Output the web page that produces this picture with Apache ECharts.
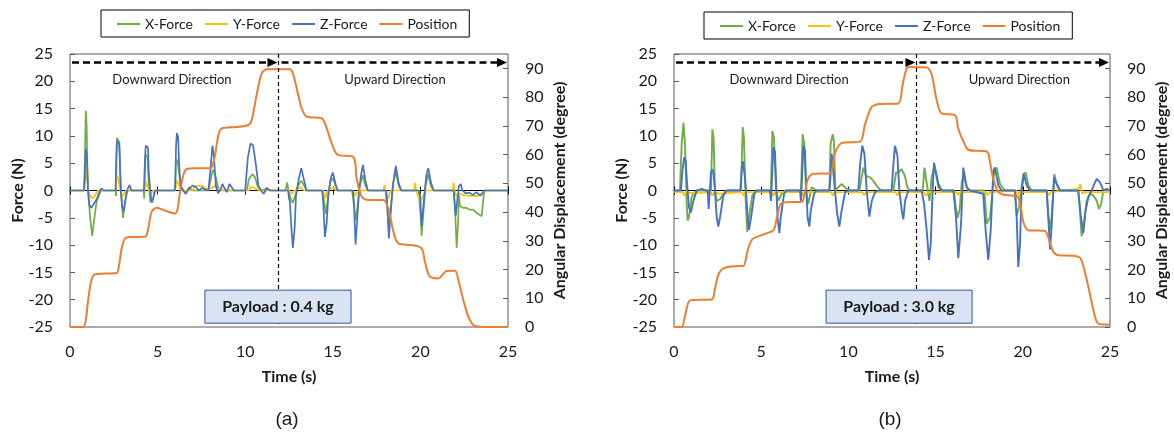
<!DOCTYPE html>
<html>
<head>
<meta charset="utf-8">
<script src="https://cdn.jsdelivr.net/npm/echarts@6/dist/echarts.min.js"></script>
<style>
html,body{margin:0;padding:0;background:#fff;}
#wrap{position:relative;width:1174px;height:435px;}
.pane{position:absolute;top:0;width:587px;height:435px;}
#chartA{left:0;}
#chartB{left:587px;}
</style>
</head>
<body>
<div id="wrap"><div id="chartA" class="pane"></div><div id="chartB" class="pane"></div></div>
<script>
var seriesNames = ['X-Force', 'Y-Force', 'Z-Force', 'Position'];
var seriesColors = ['#70ad47', '#ffc000', '#4472c4', '#ed7d31'];

// (a) payload 0.4 kg : [time (s), force (N)] / [time (s), angle (deg)]
var aXForce = [[0,0],[0.8,0],[0.85,6],[0.9,14.6],[0.95,12],[1.0,3],[1.05,-1],[1.15,-5],[1.27,-8.3],[1.39,-5],[1.52,-2],[1.71,-0.4],[1.8,0],
  [2.6,0],[2.63,-1],[2.67,9.6],[2.78,9.4],[2.82,8.9],[2.88,2],[2.95,-2],[3.02,-5],[3.1,-3.5],[3.2,-1],[3.3,0],
  [4.2,0],[4.24,-1.5],[4.3,6.6],[4.42,6.2],[4.5,1],[4.58,-2],[4.7,-2.2],[4.8,-0.5],[4.9,0],
  [6.0,0],[6.05,5.8],[6.15,5.2],[6.25,2.5],[6.35,0.5],[6.5,0],[6.6,-0.5],[6.8,0.5],[7.0,0],
  [7.9,0],[8.0,1.5],[8.15,3.8],[8.3,2.8],[8.45,0.5],[8.6,0],
  [10.1,0],[10.2,2],[10.4,3],[10.55,2.5],[10.7,0.8],[10.9,0],[11.2,0.3],[11.5,0],
  [12.3,0],[12.4,1.5],[12.47,0],[12.6,-1.5],[12.72,-2.3],[12.85,-1],[13.0,0.8],[13.2,1.8],[13.35,1],[13.5,0],
  [14.4,0],[14.5,-2],[14.6,-4.3],[14.7,-2],[14.85,1.5],[15.0,2.3],[15.15,1],[15.3,0],
  [16.1,0],[16.2,-2.5],[16.3,-5.5],[16.4,-3],[16.55,1],[16.7,2.8],[16.85,1],[17.0,0],
  [18.0,0],[18.1,-3],[18.2,-7.3],[18.3,-4],[18.45,1.5],[18.6,3.3],[18.75,1],[18.9,0],
  [19.9,0],[20.0,-4],[20.07,-8.3],[20.15,-5],[20.3,1],[20.45,3],[20.6,0.8],[20.75,0],
  [21.9,0],[22.0,-5],[22.07,-10.5],[22.15,-6],[22.2,-0.8],[22.26,-2.9],[22.45,-3.2],[22.64,-3.2],[22.8,-3.5],[23.02,-3.5],[23.2,-4.1],[23.31,-4.1],[23.5,-4.7],[23.58,-2],[23.65,0],[25,0]];
var aYForce = [[0,0],[0.8,0],[0.87,2],[0.92,4.2],[0.98,2],[1.05,0],[1.15,-1],[1.3,-1.5],[1.45,-0.8],[1.6,0],
  [2.6,0],[2.68,2.7],[2.78,2],[2.85,0],[3.0,-1],[3.1,-0.7],[3.2,0],
  [4.25,0],[4.33,1.7],[4.42,1.5],[4.5,0],[4.6,-0.6],[4.75,0],
  [6.0,0],[6.08,1.8],[6.2,1.2],[6.35,0],[7.0,0],[7.1,0.8],[7.5,0.9],[7.8,0.3],[8.1,0.5],[8.25,0.9],[8.45,0.2],[8.7,0],
  [10.2,0],[10.35,0.7],[10.55,0.4],[10.8,0],
  [12.5,0],[12.65,-0.6],[12.8,0],[13.15,0.6],[13.35,0],[14.45,0],[14.55,-1.5],[14.7,0],[15.0,0.5],[15.2,0],
  [16.15,0],[16.28,-1],[16.45,0],[17.9,0],[17.95,1],[18.0,0],[18.15,-1.5],[18.3,0],
  [19.65,0],[19.7,1.4],[19.75,0],[20.0,-2],[20.15,-1],[20.3,0],
  [21.85,0],[21.9,1.4],[21.95,0],[22.05,-1],[22.2,-0.5],[22.4,-0.8],[22.8,-1],[23.2,-1],[23.5,-0.9],[23.65,0],[25,0]];
var aZForce = [[0,0],[0.8,0],[0.85,3],[0.9,7.6],[0.96,6.5],[1.03,0],[1.1,-2.5],[1.2,-3.2],[1.33,-2.6],[1.52,-1.6],[1.71,0],[1.8,0.4],[1.9,0],
  [2.6,0],[2.63,5],[2.68,9],[2.8,8.6],[2.84,6],[2.9,0],[2.98,-3],[3.05,-3.8],[3.12,-2.5],[3.25,0],[3.4,1],[3.5,0],
  [4.22,0],[4.27,5],[4.32,8.2],[4.45,7.9],[4.5,3],[4.58,0],[4.65,-2],[4.75,-1.5],[4.85,0],
  [6.0,0],[6.05,8],[6.1,10.5],[6.17,9.8],[6.22,5.5],[6.3,1],[6.45,0],[6.6,-0.6],[6.8,0.4],[7.0,0.9],[7.2,0.6],[7.35,0],[7.55,0.5],[7.7,0.2],[7.9,0],
  [8.02,4],[8.13,8.2],[8.22,6],[8.32,1],[8.45,-0.5],[8.6,0.2],[8.7,1.2],[8.8,0.5],[8.95,-0.3],[9.1,1.2],[9.25,0.5],[9.35,0],
  [10.0,0],[10.15,6],[10.3,8.6],[10.45,8.3],[10.6,5],[10.75,1],[10.9,0],[11.05,-0.6],[11.25,0.5],[11.4,0],
  [12.45,0],[12.5,-1.5],[12.55,-2],[12.62,-6],[12.72,-10.5],[12.82,-7],[12.9,-1],[13.05,2],[13.2,4.1],[13.35,2],[13.5,0],
  [14.4,0],[14.45,-2],[14.55,-8.5],[14.65,-6],[14.75,-0.5],[14.9,2.5],[15.0,3.3],[15.1,2],[15.25,0],
  [16.15,0],[16.2,-2],[16.3,-9.9],[16.4,-5],[16.5,0],[16.62,3],[16.72,4.7],[16.85,2],[17.0,0],
  [18.05,0],[18.1,-2],[18.2,-8.8],[18.3,-4],[18.4,0],[18.52,3],[18.6,4.5],[18.75,1.5],[18.9,0],
  [19.95,0],[20.0,-2],[20.07,-6.5],[20.15,-3.5],[20.25,0],[20.35,3],[20.45,4.1],[20.6,1.5],[20.75,0],
  [21.9,0],[21.95,-2],[22.02,-4.6],[22.1,-2],[22.2,0.8],[22.3,1.2],[22.4,0],[22.6,-0.5],[22.8,-0.4],[23.0,-0.8],[23.2,-0.3],[23.4,-0.9],[23.55,-0.5],[23.65,0],[25,0]];
var aPosition = [[0,0],[0.76,0],[0.89,1.9],[1.05,10],[1.24,16.8],[1.43,18.3],[2.0,18.6],[2.66,18.8],[2.8,21.6],[2.95,27.4],[3.14,30.8],[3.42,31.3],[4.28,31.4],
  [4.43,33.2],[4.66,40.1],[4.95,41.5],[5.42,40.5],[6.0,39.5],[6.15,41.3],[6.28,47],[6.47,52.9],[6.66,55],[7.13,55.2],[8.0,55.2],
  [8.12,56],[8.28,59.8],[8.47,66.8],[8.66,69.1],[9.5,69.6],[10.18,70.3],[10.37,72],[10.65,80.7],[10.94,88.2],[11.23,89.7],[12.56,89.7],
  [12.75,87.7],[13.03,80.7],[13.22,76.1],[13.5,73.2],[14.37,72.6],[14.56,70.8],[14.84,65.6],[15.13,61],[15.32,59.8],[16.17,59.2],
  [16.36,51.7],[16.65,45.3],[17.03,44.2],[17.88,44.2],[18.17,41.3],[18.46,33.2],[18.74,29.1],[19.5,28.5],[20.07,27.4],
  [20.26,22.7],[20.54,17.5],[21.02,16.9],[21.5,19.5],[21.97,19.6],[22.17,16.3],[22.45,9.4],[22.74,3.6],[23.02,0.7],[23.4,0.1],[25,0]];

// (b) payload 3.0 kg
var bXForce = [[0,0],[0.34,0],[0.44,8.5],[0.54,12.4],[0.63,8.5],[0.73,-2.5],[0.78,-5.5],[0.86,-4.9],[1.01,-1.2],[1.2,-0.3],[1.4,0],
  [2.12,0],[2.2,11.2],[2.27,9.7],[2.35,0],[2.45,-1.9],[2.64,-1.6],[2.83,-0.6],[3.0,0],
  [3.84,0],[3.94,11.6],[4.01,9.7],[4.11,-1.9],[4.2,-7.6],[4.3,-4.9],[4.49,-0.9],[4.7,0],
  [5.56,0],[5.64,10.9],[5.73,9.7],[5.85,0],[5.98,-1.9],[6.17,-0.6],[6.4,0],
  [7.28,0],[7.38,10.3],[7.47,8.5],[7.57,0],[7.7,-2.5],[7.89,0.6],[8.18,0],
  [8.91,0],[8.98,8.5],[9.1,10.3],[9.17,9.1],[9.25,0],[9.42,0.6],[9.61,1.2],[9.9,0.3],[10.19,0],
  [10.63,0],[10.76,2.4],[10.86,4.2],[11.01,2.7],[11.24,2.4],[11.42,1.8],[11.62,0.9],[11.81,0.2],[12.0,0],
  [12.58,0],[12.73,3.3],[12.86,3.3],[13.05,3.9],[13.24,2.7],[13.38,0.6],[13.53,0],
  [14.26,0],[14.36,4.2],[14.45,4.5],[14.55,0],[14.65,-1.9],[14.77,2.4],[14.91,4.2],[15.02,3.0],[15.16,0.6],[15.35,0],
  [16.05,0],[16.15,-3],[16.27,-5],[16.38,-3.5],[16.5,1.5],[16.62,2.8],[16.75,1],[16.9,0],
  [17.8,0],[17.93,-6.1],[18.12,-4.9],[18.25,-0.6],[18.37,3.9],[18.5,4.2],[18.69,1.2],[18.97,0],
  [19.55,0],[19.65,-4.6],[19.78,-3.1],[19.9,0],[20.03,3],[20.17,3.3],[20.32,0.9],[20.51,0],
  [21.37,0],[21.46,-4.3],[21.56,-7.3],[21.65,-4.9],[21.81,3],[21.94,1.2],[22.13,0],
  [23.18,0],[23.28,-3.7],[23.37,-8.4],[23.52,-5.5],[23.66,-1.9],[23.85,-0.6],[24.04,-0.9],[24.24,-1.9],[24.37,-3.4],[24.49,-2.5],[24.62,0],[25,0]];
var bYForce = [[0,-0.3],[0.5,-0.3],[0.6,-1],[0.7,-0.2],[1.0,-0.5],[2.1,-0.3],[2.2,-1],[2.3,-0.3],[2.6,-0.6],[3.9,-0.3],[4.0,-1],[4.1,-0.3],
  [5.6,-0.3],[5.7,-1],[5.8,-0.3],[7.3,-0.3],[7.4,-1],[7.5,-0.3],[9.0,-0.3],[9.1,-1],[9.2,-0.3],[10.8,-0.3],[10.9,-0.9],[11.0,-0.3],
  [12.7,-0.3],[12.8,-0.9],[12.9,-0.3],[14.3,-0.3],[14.45,-0.9],[14.6,-0.3],[16.2,-0.3],[16.3,-0.8],[16.4,-0.3],[17.9,-0.3],[18.0,-0.8],[18.1,-0.3],
  [19.6,0],[19.7,-0.9],[19.8,-0.3],[21.4,-0.3],[21.5,-0.9],[21.6,-0.3],[23.2,0.3],[23.3,1.2],[23.4,-0.5],[23.6,-0.3],[25,-0.3]];
var bZForce = [[0,0],[0.4,0],[0.48,3.6],[0.59,6.1],[0.67,5.4],[0.75,1.2],[0.86,-3.1],[0.97,-4],[1.11,-1.9],[1.3,0],[1.6,0.3],[1.8,0],
  [1.93,0],[1.99,-3.4],[2.05,0],[2.12,3.3],[2.2,3.9],[2.27,3],[2.35,0],[2.45,-4.9],[2.54,-6.6],[2.64,-4.9],[2.83,-0.9],[3.02,0],
  [3.8,0],[3.88,3.6],[3.94,5.4],[4.01,5.7],[4.07,2.4],[4.13,0],[4.22,-4.9],[4.3,-7.2],[4.42,-4.9],[4.61,-0.6],[4.74,0],
  [5.5,0],[5.56,-1.9],[5.62,2.4],[5.7,7.9],[5.79,7],[5.87,0],[5.94,-4.9],[6.04,-7.8],[6.12,-4.9],[6.31,-0.6],[6.46,0],
  [7.22,0],[7.28,-1.9],[7.34,2.4],[7.42,8.2],[7.51,7.3],[7.59,0],[7.66,-4.9],[7.76,-6.6],[7.84,-3.7],[8.03,-0.6],[8.18,0],
  [8.91,0],[8.97,2.4],[9.04,6.7],[9.13,6.7],[9.23,0],[9.36,-4.3],[9.48,-6.6],[9.61,-3.7],[9.81,-0.3],[10.0,0],
  [10.57,0],[10.67,4.8],[10.8,8.2],[10.92,6.7],[11.05,0],[11.2,-4.8],[11.34,-1.9],[11.53,-0.3],[11.7,0],
  [12.48,0],[12.58,4.8],[12.67,8.2],[12.81,6.4],[12.92,0],[13.06,-3.7],[13.15,-5.3],[13.25,-1.9],[13.44,0],
  [14.2,0],[14.34,-2.5],[14.49,-7.3],[14.62,-12.7],[14.72,-9.8],[14.83,0],[14.91,5.1],[15.02,4.8],[15.16,1.2],[15.35,0],
  [16.02,0],[16.17,-4.9],[16.3,-12.4],[16.46,-6.1],[16.59,4.2],[16.78,0.6],[16.97,0],
  [17.73,-0.6],[17.87,-7.3],[18.02,-12.7],[18.16,-7.3],[18.31,3.6],[18.4,4.2],[18.6,0.9],[18.79,0],
  [19.55,0],[19.65,-4.9],[19.74,-14],[19.84,-9.8],[19.93,0],[20.07,3],[20.22,0.9],[20.41,0],
  [21.37,0],[21.46,-4.9],[21.56,-10.8],[21.65,-6.7],[21.79,2.4],[21.94,1.2],[22.13,0],
  [23.18,0],[23.33,-4.9],[23.47,-7.8],[23.6,-3.7],[23.76,-1.2],[23.95,0],[24.1,1.2],[24.24,2.1],[24.43,1.5],[24.62,0],[24.81,0.3],[25,0]];
var bPosition = [[0,0],[0.44,0],[0.6,3],[0.82,8.5],[1.01,9.4],[2.16,9.6],[2.35,13.4],[2.54,18.1],[2.83,20.4],[3.88,21.2],[3.98,21.2],
  [4.26,27.4],[4.49,30.5],[5.03,32],[5.7,33.7],[5.89,37.8],[6.08,42.4],[6.36,43.4],[7.32,43.6],[7.51,47.1],[7.7,51.7],[7.99,53.3],
  [8.94,53.5],[9.23,60.5],[9.6,64],[10.67,64.5],[10.95,70.5],[11.33,76.5],[11.7,77.5],[12.86,77.8],[13.1,84],[13.34,90],[13.53,90.5],
  [14.49,90.3],[14.78,87.7],[15.06,79],[15.35,74.3],[16.1,73.8],[16.3,69],[16.6,64.5],[16.9,61.6],[17.95,61],[18.1,58],[18.3,51.7],
  [18.6,47],[18.98,45.9],[19.65,45.6],[19.85,43],[20.03,36.6],[20.3,33.7],[21.27,33.4],[21.45,31.4],[21.75,26.2],[22.04,25],
  [22.9,24.8],[23.3,23.9],[23.6,18.1],[23.9,10],[24.14,3.6],[24.3,1.3],[24.6,0.9],[25,0.9]];

function buildChart(dom, cfg) {
  var chart = echarts.init(dom)
  var txt = '#1a1a1a'
  var split = cfg.split
  var arrowY = 23.45
  var vLine = {type: [4, 3], width: 1.2, color: '#000'}

  var series = cfg.data.map(function (d, i) {
    return {
      name: seriesNames[i], type: 'line', data: d,
      xAxisIndex: 0, yAxisIndex: i === 3 ? 1 : 0,
      showSymbol: false, symbol: 'none',
      smooth: i === 3 ? 0.3 : false,
      lineStyle: {color: seriesColors[i], width: i === 3 ? 2 : cfg.forceWidth},
      itemStyle: {color: seriesColors[i]},
      emphasis: {disabled: true}
    }
  })
  // split line between the two directions
  series[0].markLine = {
    silent: true, label: {show: false}, emphasis: {disabled: true},
    symbol: ['none', 'none'],
    data: [
      [{coord: [split, 25], lineStyle: vLine}, {coord: [split, -25], lineStyle: vLine}]
    ]
  }

  var option = {
    animation: false,
    textStyle: {fontFamily: 'Lato'},
    legend: {
      data: seriesNames, left: cfg.legendLeft, top: cfg.legendTop,
      icon: 'rect', itemWidth: 23, itemHeight: 2, itemGap: 12,
      borderColor: '#000', borderWidth: 1, padding: [7, 12, 6, 16],
      textStyle: {fontSize: 14, color: txt, fontFamily: 'Lato'}
    },
    grid: {left: cfg.left, right: cfg.right, top: 54, bottom: 108, show: true,
      borderColor: '#595959', borderWidth: 1, containLabel: false, outerBoundsMode: 'none'},
    xAxis: [
      {type: 'value', position: 'bottom', min: 0, max: 25, interval: 5,
        name: 'Time (s)', nameLocation: 'middle', nameGap: 42, nameMoveOverlap: false,
        nameTextStyle: {fontWeight: 'bold', fontSize: 16, color: txt, fontFamily: 'Lato'},
        axisLine: {show: false, onZero: false}, axisTick: {show: false}, splitLine: {show: false},
        axisLabel: {fontSize: 16, margin: 17, color: txt, fontFamily: 'Lato'}},
      {type: 'value', position: 'bottom', min: 0, max: 25, interval: 5,
        axisLine: {show: true, onZero: true, onZeroAxisIndex: 0, lineStyle: {color: '#000', width: 1}},
        axisTick: {show: true, inside: true, length: 4, lineStyle: {color: '#000'}},
        axisLabel: {show: false}, splitLine: {show: false}},
      {type: 'value', position: 'bottom', min: 0, max: 25, interval: 5,
        axisLine: {show: false, onZero: true, onZeroAxisIndex: 0},
        axisTick: {show: true, inside: false, length: 4, lineStyle: {color: '#000'}},
        axisLabel: {show: false}, splitLine: {show: false}}
    ],
    yAxis: [
      {type: 'value', position: 'left', min: -25, max: 25, interval: 5,
        name: 'Force (N)', nameLocation: 'middle', nameGap: 44, nameRotate: 90, nameMoveOverlap: false,
        nameTextStyle: {fontWeight: 'bold', fontSize: 16, color: txt, fontFamily: 'Lato'},
        axisLine: {show: false, onZero: false},
        axisTick: {show: true, inside: true, length: 5, lineStyle: {color: '#595959'}},
        splitLine: {show: false},
        axisLabel: {fontSize: 16, margin: 17, color: txt, fontFamily: 'Lato'}},
      {type: 'value', position: 'right', min: 0, max: 95, interval: 10,
        name: 'Angular Displacement (degree)', nameLocation: 'middle', nameGap: 44, nameRotate: 90, nameMoveOverlap: false,
        nameTextStyle: {fontWeight: 'bold', fontSize: 16, color: txt, fontFamily: 'Lato'},
        axisLine: {show: false, onZero: false},
        axisTick: {show: true, inside: true, length: 5, lineStyle: {color: '#595959'}},
        splitLine: {show: false},
        axisLabel: {fontSize: 16, margin: 17, color: txt, fontFamily: 'Lato', showMaxLabel: false}}
    ],
    series: series
  }
  chart.setOption(option)

  var px = function (t, f) { return chart.convertToPixel({xAxisIndex: 0, yAxisIndex: 0}, [t, f]) }
  var b0 = px(cfg.box[0], -18.25)
  var b1 = px(cfg.box[1], -24.3)
  var dn = px(cfg.downX, 20.3)
  var up = px(cfg.upX, 20.3)
  var aL = px(0, arrowY), aM = px(split, arrowY), aR = px(25, arrowY)
  var ay = Math.round(aL[1]) + 0.5
  var head = function (tipX) {
    return {type: 'polygon', z: 101, shape: {points: [[tipX, ay], [tipX - 10, ay - 4.5], [tipX - 10, ay + 4.5]]},
      style: {fill: '#000'}}
  }
  var dash = function (x1, x2) {
    return {type: 'line', z: 100, shape: {x1: x1, y1: ay, x2: x2, y2: ay},
      style: {stroke: '#000', lineWidth: 2.5, lineDash: [7, 4]}}
  }
  chart.setOption({
    graphic: [
      dash(aL[0] + 2, aM[0] - 8), head(aM[0] - 1),
      dash(aM[0] + 3, aR[0] - 8), head(aR[0] - 1),
      {type: 'rect', z: 100, shape: {x: b0[0], y: b0[1], width: b1[0] - b0[0], height: b1[1] - b0[1]},
        style: {fill: '#dae3f3', stroke: '#2f5597', lineWidth: 1}},
      {type: 'text', z: 101, x: (b0[0] + b1[0]) / 2, y: (b0[1] + b1[1]) / 2,
        style: {text: cfg.payload, fill: txt, font: 'bold 16px Lato', align: 'center', verticalAlign: 'middle'}},
      {type: 'text', z: 101, x: dn[0], y: dn[1],
        style: {text: 'Downward Direction', fill: txt, font: '13px Lato', align: 'center', verticalAlign: 'middle'}},
      {type: 'text', z: 101, x: up[0], y: up[1],
        style: {text: 'Upward Direction', fill: txt, font: '13px Lato', align: 'center', verticalAlign: 'middle'}},
      {type: 'text', z: 101, x: cfg.tagX, y: 420,
        style: {text: cfg.tag, fill: txt, font: '19px "Liberation Sans"', align: 'center', verticalAlign: 'middle'}}
    ]
  })
  return chart
}

buildChart(document.getElementById('chartA'), {
  data: [aXForce, aYForce, aZForce, aPosition],
  left: 70, right: 79, legendLeft: 101, legendTop: 10,
  split: 11.9, box: [7.7, 16.04], downX: 5.82, upX: 18.55,
  payload: 'Payload : 0.4 kg', tag: '(a)', tagX: 287, forceWidth: 1.7
})
buildChart(document.getElementById('chartB'), {
  data: [bXForce, bYForce, bZForce, bPosition],
  left: 87, right: 64, legendLeft: 117, legendTop: 12,
  split: 13.9, box: [8.72, 17.09], downX: 6.6, upX: 19.8,
  payload: 'Payload : 3.0 kg', tag: '(b)', tagX: 303, forceWidth: 1.9
})
</script>
</body>
</html>
